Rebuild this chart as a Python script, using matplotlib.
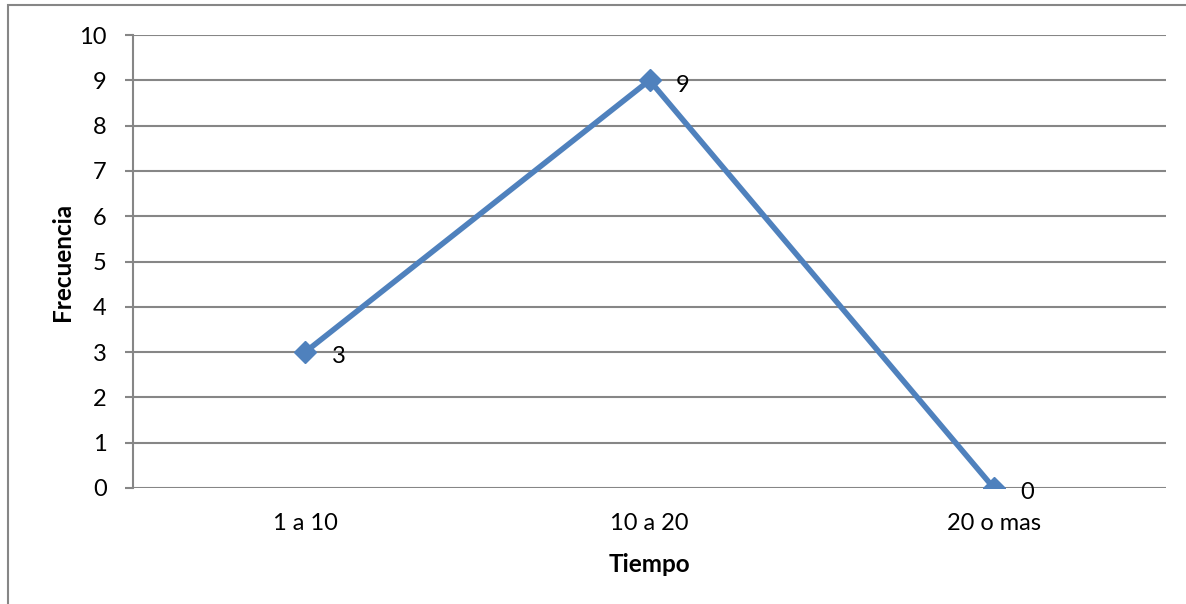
import matplotlib.pyplot as plt
from matplotlib.patches import Rectangle

plt.rcParams['font.family'] = ['Lato', 'DejaVu Sans']

categorias = ["1 a 10", "10 a 20", "20 o mas"]
frecuencia = [3, 9, 0]

azul = "#4F81BD"
gris = "#868686"

fig = plt.figure(figsize=(11.86, 6.04), dpi=100)
ax = fig.add_axes([133/1186, 1-488/604, 1033/1186, 453/604])

# marco exterior del grafico
fig.patches.append(Rectangle((8/1186, -0.1), 2, 1-5/604+0.1, transform=fig.transFigure,
                             fill=False, edgecolor=gris, lw=1.5))

x = range(len(categorias))
ax.plot(x, frecuencia, color=azul, lw=4, marker="D", markersize=11.5, zorder=3)
for xi, v in zip(x, frecuencia):
    ax.annotate(str(v), (xi, v), xytext=(19, -3.5), textcoords="offset points",
                fontsize=17, va="center", ha="left")

ax.set_xlim(-0.5, 2.5)
ax.set_ylim(0, 10)
ax.set_yticks(range(0, 11))
ax.set_xticks(list(x))
ax.set_xticklabels(categorias)
ax.grid(axis="y", color=gris, lw=1.5)
ax.set_axisbelow(True)

for lado in ["top", "right", "bottom"]:
    ax.spines[lado].set_visible(False)
ax.spines["left"].set_color(gris)
ax.spines["left"].set_linewidth(1.5)
ax.tick_params(axis="y", length=6, width=1.5, color=gris, pad=13, labelsize=17)
ax.tick_params(axis="x", length=0, pad=18, labelsize=17)

ax.set_xlabel("Tiempo", fontsize=17.5, fontweight="bold")
ax.set_ylabel("Frecuencia", fontsize=17.5, fontweight="bold")
ax.xaxis.set_label_coords(0.5, -0.144)
ax.yaxis.set_label_coords(-0.057, 0.499)

plt.savefig("out.png")
